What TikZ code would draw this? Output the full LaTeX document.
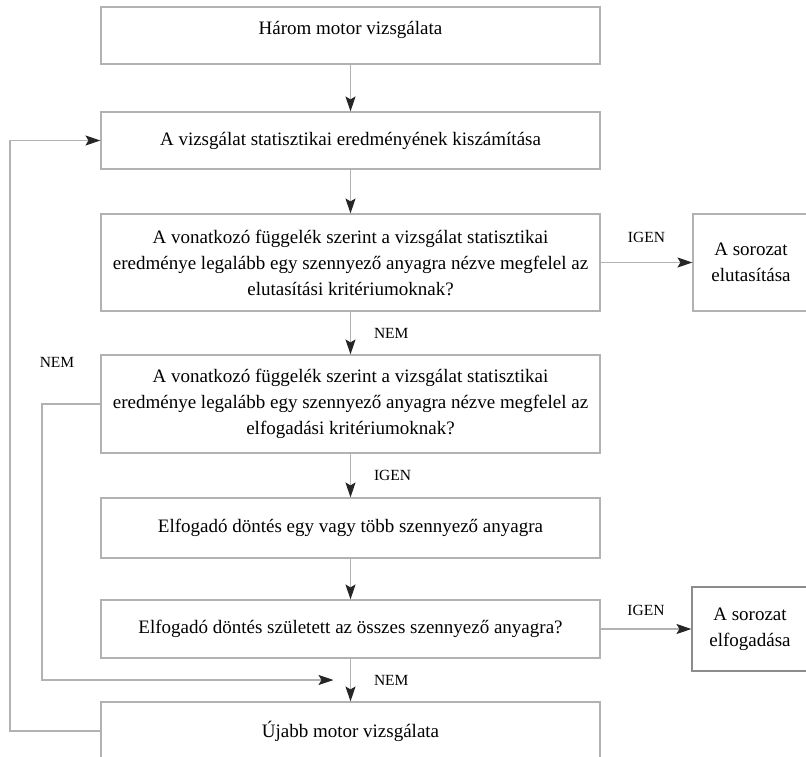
\documentclass[tikz,border=0pt]{standalone}
\usepackage{fontspec}
\setmainfont{Liberation Serif}
\usetikzlibrary{arrows.meta,calc}

\tikzset{
  box/.style={draw=gray!60, line width=1.1pt, rectangle, align=center,
    minimum width=499pt, inner sep=2pt, font=\fontsize{19}{26}\selectfont},
  sidebox/.style={box, minimum width=116pt},
  arr/.style={draw=gray!60, line width=1.1pt,
    -{Stealth[length=15pt, width=10pt, inset=3pt, color=black!85]}},
  lbl/.style={font=\fontsize{15.5}{17}\selectfont, inner sep=1pt}
}

\begin{document}
\begin{tikzpicture}[x=1pt, y=-1pt]
  % page frame
  \clip (0,0) rectangle (806,757);

  % main column
  \node[box, minimum height=57pt, text depth=16pt] (start) at (350.5,35.5) {Három motor vizsgálata};
  \node[box, minimum height=57pt] (stat) at (350.5,140.5) {A vizsgálat statisztikai eredményének kiszámítása};
  \node[box, minimum height=97pt] (rejq) at (350.5,262.5)
    {A vonatkozó függelék szerint a vizsgálat statisztikai\\
     eredménye legalább egy szennyező anyagra nézve megfelel az\\
     elutasítási kritériumoknak?};
  \node[box, minimum height=98pt] (accq) at (350.5,404)
    {A vonatkozó függelék szerint a vizsgálat statisztikai\\
     eredménye legalább egy szennyező anyagra nézve megfelel az\\
     elfogadási kritériumoknak?};
  \node[box, minimum height=60pt] (partacc) at (350.5,528) {Elfogadó döntés egy vagy több szennyező anyagra};
  \node[box, minimum height=58pt] (allq) at (350.5,629) {Elfogadó döntés született az összes szennyező anyagra?};
  \node[box, minimum height=58pt] (next) at (350.5,731) {Újabb motor vizsgálata};

  % outcome boxes on the right
  \node[sidebox, minimum height=97pt] (rejbox) at (751,262.5) {A sorozat\\ elutasítása};
  \node[sidebox, minimum height=84pt, draw=gray!90] (accbox) at (750,629) {A sorozat\\ elfogadása};

  % helper points for the loops
  \coordinate (innerx) at (42,0);
  \coordinate (outerx) at (10,0);
  \coordinate (merge) at ($(allq.south)!0.5!(next.north)+(-17,0)$);

  % downward flow
  \draw[arr] (start) -- (stat);
  \draw[arr] (stat) -- (rejq);
  \draw[arr] (rejq) -- node[lbl, right, xshift=22pt] (nem1) {NEM} (accq);
  \draw[arr] (accq) -- node[lbl, right, xshift=22pt] (igen1) {IGEN} (partacc);
  \draw[arr] (partacc) -- (allq);
  \draw[arr] (allq) -- node[lbl, right, xshift=22pt] (nem3) {NEM} (next);

  % sideways exits
  \draw[arr] (rejq) -- node[lbl, above, yshift=18pt] (igen2) {IGEN} (rejbox);
  \draw[arr] (allq) -- node[lbl, above, yshift=12pt] (igen3) {IGEN} (accbox);

  % NEM loop from the acceptance question
  \draw[arr] (accq.west) -- (accq.west -| innerx) -- (merge -| innerx) -- (merge);
  \node[lbl] (nem2) at ($(accq.west -| innerx)+(15,-42)$) {NEM};

  % loop back for the next motor
  \draw[arr] (next.west) -- (next.west -| outerx) -- (stat.west -| outerx) -- (stat.west);
\end{tikzpicture}
\end{document}
